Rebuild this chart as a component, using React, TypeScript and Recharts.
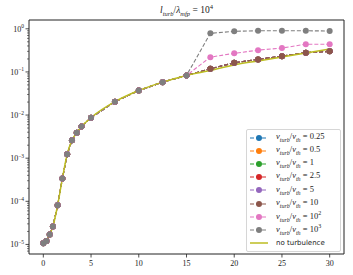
import React from "react";
import { LineChart, Line, XAxis, YAxis, ReferenceArea, Legend } from "recharts";

// sample positions along x
const xs = [0, 0.33, 0.67, 1, 1.5, 2, 2.5, 3, 3.5, 4, 5, 7.5, 10, 12.5, 15, 17.5, 20, 22.5, 25, 27.5, 30];

// shared early part of every curve (x <= 15)
const early = [1.07e-5, 1.2e-5, 1.71e-5, 2.6e-5, 8.1e-5, 3.4e-4, 1.23e-3, 2.6e-3, 3.9e-3, 5.4e-3, 8.7e-3, 0.0204, 0.037, 0.058, 0.083];

const tailLow = [0.118, 0.163, 0.195, 0.232, 0.279, 0.3];
const tail10 = [0.118, 0.163, 0.195, 0.232, 0.279, 0.3];
const tail100 = [0.22, 0.27, 0.32, 0.357, 0.44, 0.44];
const tail1000 = [0.785, 0.875, 0.9, 0.9, 0.9, 0.89];
const tailNoTurb = [0.108, 0.145, 0.18, 0.222, 0.275, 0.34];

const seriesLabels = ["0.25", "0.5", "1", "2.5", "5", "10", "10^2", "10^3"];
const seriesColors = ["#1f77b4", "#ff7f0e", "#2ca02c", "#d62728", "#9467bd", "#8c564b", "#e377c2", "#7f7f7f"];
const seriesTails = [tailLow, tailLow, tailLow, tailLow, tailLow, tail10, tail100, tail1000];

const xTicks = [0, 5, 10, 15, 20, 25, 30];
const yMajor = [1e-5, 1e-4, 1e-3, 1e-2, 1e-1, 1];
const yMinor: number[] = [];
for (let d = -6; d <= 0; d++) {
  for (let k = 2; k <= 9; k++) {
    const v = k * Math.pow(10, d);
    if (v > 6.1e-6 && v < 1.6) yMinor.push(v);
  }
}
const yTicks = [...yMajor, ...yMinor].sort((a, b) => a - b);

const data = xs.map((x, i) => {
  const row: any = { x };
  seriesTails.forEach((tail, s) => {
    row["s" + s] = i < early.length ? early[i] : tail[i - early.length];
  });
  row.noTurb = i < early.length ? early[i] : tailNoTurb[i - early.length];
  return row;
});

const SERIF = "'Liberation Serif', 'DejaVu Serif', serif";
const INK = "#222";

const YTick = (props: any) => {
  const { x, y, payload } = props;
  const lg = Math.log10(payload.value);
  const e = Math.round(lg);
  const major = Math.abs(lg - e) < 1e-6;
  return (
    <g>
      <line x1={x - (major ? 3.5 : 2)} x2={x} y1={y} y2={y} stroke={INK} strokeWidth={major ? 0.8 : 0.6} />
      {major && (
        <text x={x - 5} y={y + 3} textAnchor="end" fontSize={8} fontFamily={SERIF} fill={INK}>
          10
          <tspan dy={-3.5} fontSize={5.5}>
            {e < 0 ? "\u2212" + Math.abs(e) : String(e)}
          </tspan>
        </text>
      )}
    </g>
  );
};

const Label = ({ text }: { text: string }) => {
  const parts = text.split("^");
  return (
    <span>
      <i>v</i>
      <sub style={{ fontSize: 6, fontStyle: "italic" }}>turb</sub>/<i>v</i>
      <sub style={{ fontSize: 6, fontStyle: "italic" }}>th</sub> = {parts[0]}
      {parts[1] && <sup style={{ fontSize: 6 }}>{parts[1]}</sup>}
    </span>
  );
};

const Handle = ({ color, marker }: { color: string; marker: boolean }) => (
  <svg width={20} height={8} style={{ display: "block" }}>
    <line
      x1={1}
      x2={19}
      y1={4}
      y2={4}
      stroke={color}
      strokeWidth={marker ? 1.1 : 1.5}
      strokeDasharray={marker ? "4 2" : undefined}
    />
    {marker && <circle cx={10} cy={4} r={3} fill={color} />}
  </svg>
);

const LegendBox = () => (
  <div
    style={{
      border: "1px solid #d6d6d6",
      borderRadius: 2,
      background: "rgba(255,255,255,0.8)",
      padding: "1px 3px 1px 2px",
      fontFamily: SERIF,
      fontSize: 8.5,
      color: INK,
      width: 88,
    }}
  >
    {seriesLabels.map((lab, i) => (
      <div key={lab} style={{ display: "flex", alignItems: "center", height: 13.2, lineHeight: "10px" }}>
        <Handle color={seriesColors[i]} marker />
        <span style={{ marginLeft: 7, whiteSpace: "nowrap" }}>
          <Label text={lab} />
        </span>
      </div>
    ))}
    <div style={{ display: "flex", alignItems: "center", height: 13.2 }}>
      <Handle color="#bcbd22" marker={false} />
      <span style={{ marginLeft: 7, fontFamily: "'DejaVu Sans', sans-serif", fontSize: 7 }}>no turbulence</span>
    </div>
  </div>
);

export default function App() {
  return (
    <div style={{ position: "absolute", left: 0, top: 0, width: 353, height: 275, background: "#fff" }}>
      <div
        style={{
          position: "absolute",
          left: 29,
          width: 315,
          top: 3,
          textAlign: "center",
          fontFamily: SERIF,
          fontSize: 9.5,
          color: INK,
          zIndex: 2,
        }}
      >
        <i>l</i>
        <sub style={{ fontSize: 6.5, fontStyle: "italic" }}>turb</sub>/<i>λ</i>
        <sub style={{ fontSize: 6.5, fontStyle: "italic" }}>mfp</sub> = 10
        <sup style={{ fontSize: 6.5 }}>4</sup>
      </div>
      <LineChart width={353} height={275} data={data} margin={{ top: 20, right: 9, bottom: 0, left: 0 }}>
        <XAxis
          dataKey="x"
          type="number"
          domain={[-1.5, 31.5]}
          ticks={xTicks}
          interval={0}
          height={21}
          axisLine={false}
          tickSize={3.5}
          tickMargin={2.5}
          tickLine={{ stroke: INK, strokeWidth: 0.8 }}
          tick={{ fontSize: 8, fontFamily: SERIF, fill: INK }}
        />
        <YAxis
          type="number"
          scale="log"
          domain={[6.0e-6, 1.6]}
          allowDataOverflow
          ticks={yTicks}
          interval={0}
          width={29}
          axisLine={false}
          tickLine={false}
          tickSize={0}
          tickMargin={0}
          tick={<YTick />}
        />
        {seriesLabels.map((lab, i) => (
          <Line
            key={lab}
            dataKey={"s" + i}
            stroke={seriesColors[i]}
            strokeWidth={1.1}
            strokeDasharray="4 2"
            dot={{ r: 3, fill: seriesColors[i], stroke: "none" }}
            isAnimationActive={false}
          />
        ))}
        <Line
          dataKey="noTurb"
          type="monotone"
          stroke="#bcbd22"
          strokeWidth={1.5}
          dot={false}
          isAnimationActive={false}
        />
        <ReferenceArea x1={-1.5} x2={31.5} y1={6.0e-6} y2={1.6} fill="none" stroke={INK} strokeWidth={1} ifOverflow="visible" />
        <Legend
          layout="vertical"
          align="center"
          verticalAlign="middle"
          content={() => <LegendBox />}
          wrapperStyle={{ left: 246, top: 129, width: 95 }}
        />
      </LineChart>
    </div>
  );
}
